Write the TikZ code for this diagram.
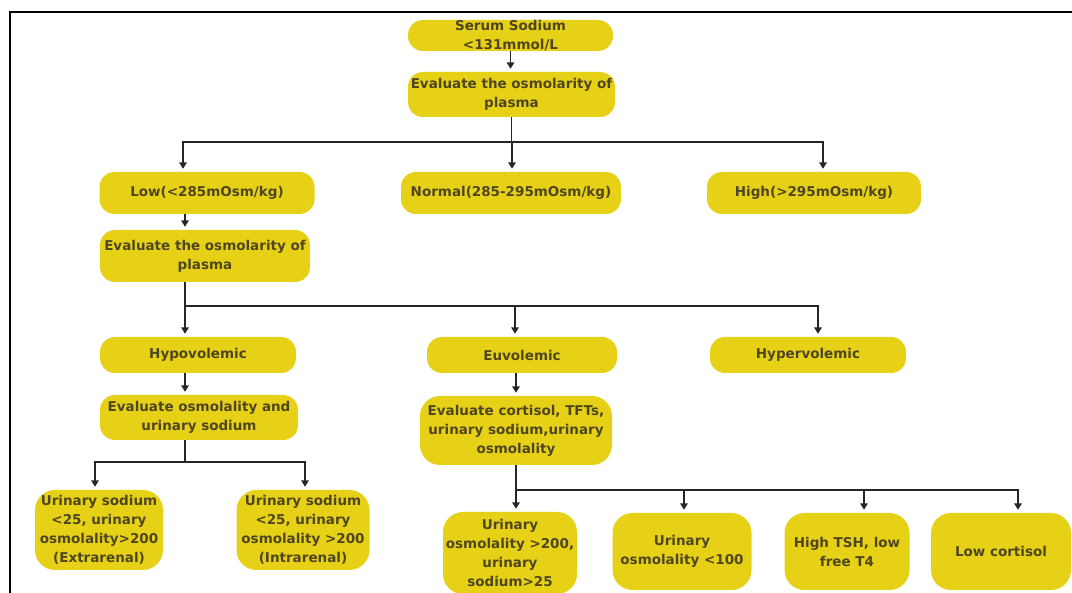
\documentclass[tikz,border=0pt]{standalone}
\usepackage{fontspec}
\setmainfont{DejaVu Sans}
\usetikzlibrary{arrows.meta}
\definecolor{boxyellow}{RGB}{231,209,22}
\definecolor{boxtext}{RGB}{78,70,32}

\begin{document}
\begin{tikzpicture}
  [x=1pt,y=-1pt,
  box/.style={fill=boxyellow,text=boxtext,rounded corners=15pt,inner sep=0pt,align=center,
    font=\bfseries\fontsize{13.5}{19}\selectfont},
  tall/.style={box,rounded corners=20pt},
  link/.style={line width=1.7pt,draw=black!85},
  arr/.style={link,shorten >=3pt,-{Triangle[width=7.5pt,length=6.5pt]}}]
\useasboundingbox (0,0) rectangle (1072,593);
\draw[line width=2.2pt] (10,593) -- (10,12) -- (1072,12);

\node[box,minimum width=205pt,minimum height=31pt] (serum) at (510.5,35.5) {Serum Sodium\\<131mmol/L};
\node[box,minimum width=207pt,minimum height=45pt] (eval1) at (511.5,94.5) {Evaluate the osmolarity of\\plasma};
\node[box,minimum width=215pt,minimum height=42pt] (low) at (207,193) {Low(<285mOsm/kg)};
\node[box,minimum width=220pt,minimum height=42pt] (normal) at (511,193) {Normal(285-295mOsm/kg)};
\node[box,minimum width=214pt,minimum height=42pt] (high) at (814,193) {High(>295mOsm/kg)};
\node[box,minimum width=210pt,minimum height=52pt] (eval2) at (205,256) {Evaluate the osmolarity of\\plasma};
\node[box,minimum width=196pt,minimum height=36pt] (hypo) at (198,355) {Hypovolemic};
\node[box,minimum width=190pt,minimum height=36pt] (euvo) at (522,355) {Euvolemic};
\node[box,minimum width=196pt,minimum height=36pt] (hyper) at (808,355) {Hypervolemic};
\node[box,minimum width=198pt,minimum height=45pt] (evalosm) at (199,417.5) {Evaluate osmolality and\\urinary sodium};
\node[tall,minimum width=192pt,minimum height=69pt] (evalcort) at (516,430.5) {Evaluate cortisol, TFTs,\\urinary sodium,urinary\\osmolality};
\node[tall,minimum width=128pt,minimum height=80pt] (extra) at (99,530) {Urinary sodium\\<25, urinary\\osmolality>200\\(Extrarenal)};
\node[tall,minimum width=133pt,minimum height=80pt] (intra) at (303,530) {Urinary sodium\\<25, urinary\\osmolality >200\\(Intrarenal)};
\node[tall,minimum width=134pt,minimum height=82pt] (osmhigh) at (510,553) {Urinary\\osmolality >200,\\urinary\\sodium>25};
\node[tall,minimum width=139pt,minimum height=77pt] (osmlow) at (682,551.5) {Urinary\\osmolality <100};
\node[tall,minimum width=125pt,minimum height=77pt] (tsh) at (847,551.5) {High TSH, low\\free T4};
\node[tall,minimum width=140pt,minimum height=77pt] (cortisol) at (1001,551.5) {Low cortisol};

\coordinate (j1) at (512,142);
\coordinate (j2) at (185,306);
\coordinate (j3) at (185,462);
\coordinate (j4) at (516,490);

\draw[arr] (serum.south) -- (serum.south |- eval1.north);
\draw[link] (eval1.south) -- (eval1.south |- j1);
\draw[arr] (j1) -| ([xshift=-24pt]low.north);
\draw[arr] (j1) -- (j1 |- normal.north);
\draw[arr] (j1) -| ([xshift=9pt]high.north);

\draw[arr] (low.south -| j2) -- (eval2.north -| j2);
\draw[link] (eval2.south -| j2) -- (j2);
\draw[arr] (j2) -- (hypo.north -| j2);
\draw[arr] (j2) -| ([xshift=-7pt]euvo.north);
\draw[arr] (j2) -| ([xshift=10pt]hyper.north);

\draw[arr] (hypo.south -| j2) -- (evalosm.north -| j2);
\draw[link] (evalosm.south -| j3) -- (j3);
\draw[arr] (j3) -| ([xshift=-4pt]extra.north);
\draw[arr] (j3) -| ([xshift=2pt]intra.north);

\draw[arr] (euvo.south -| evalcort) -- (evalcort.north);
\draw[arr] (evalcort.south) -- (evalcort.south |- osmhigh.north);
\draw[arr] (j4) -| ([xshift=2pt]osmlow.north);
\draw[arr] (j4) -| ([xshift=17pt]tsh.north);
\draw[arr] (j4) -| ([xshift=17pt]cortisol.north);
\end{tikzpicture}
\end{document}
